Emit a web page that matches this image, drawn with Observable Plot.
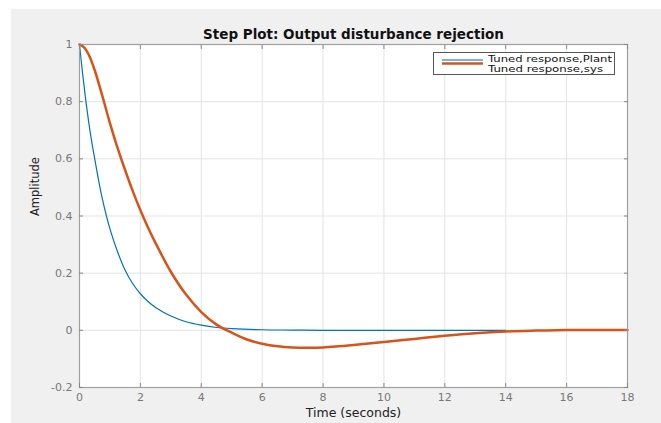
<!DOCTYPE html>
<html>
<head>
<meta charset="utf-8">
<script src="https://cdn.jsdelivr.net/npm/d3@7"></script>
<script src="https://cdn.jsdelivr.net/npm/@observablehq/plot@0.6"></script>
<style>
  html, body { margin: 0; padding: 0; background: #ffffff; }
  #wrap { position: absolute; left: 11px; top: 9px; width: 650px; height: 414px; background: #f0f0f0; overflow: hidden; }
  #legend { position: absolute; left: 422px; top: 43px; }
</style>
</head>
<body>
<div id="wrap"><div id="chart"></div><div id="legend"></div></div>
<script>
const title = "Step Plot: Output disturbance rejection";
const xLabel = "Time (seconds)";
const yLabel = "Amplitude";
const seriesNames = ["Tuned response,Plant", "Tuned response,sys"];
const seriesColors = ["#0072BD", "#D95319"];
const xTicks = [0, 2, 4, 6, 8, 10, 12, 14, 16, 18];
const yTicks = [-0.2, 0, 0.2, 0.4, 0.6, 0.8, 1];

const plantT = [0, 0.1, 0.2, 0.3, 0.4, 0.5, 0.6, 0.75, 1, 1.25, 1.5, 1.75, 2, 2.25, 2.5, 3, 3.5, 4, 4.5, 5, 6, 7, 8, 10, 12, 14];
const plantV = [1, 0.9, 0.81, 0.73, 0.66, 0.6, 0.54, 0.46, 0.355, 0.275, 0.21, 0.163, 0.128, 0.101, 0.08, 0.05, 0.03, 0.018, 0.01, 0.006, 0.002, 0.001, 0, 0, 0, 0];

const sysT = [0, 0.15, 0.3, 0.5, 0.75, 1, 1.25, 1.5, 1.75, 2, 2.25, 2.5, 3, 3.5, 4, 4.5, 5, 5.5, 6, 6.5, 7, 7.5, 8, 8.5, 9, 10, 11, 12, 13, 14, 15, 16, 17, 18];
const sysV = [1, 0.99, 0.965, 0.91, 0.82, 0.725, 0.638, 0.56, 0.487, 0.42, 0.36, 0.305, 0.205, 0.125, 0.064, 0.02, -0.008, -0.032, -0.047, -0.056, -0.06, -0.061, -0.06, -0.056, -0.051, -0.041, -0.03, -0.019, -0.01, -0.004, -0.001, 0.001, 0.001, 0.001];

const plant = plantT.map((t, i) => ({t, v: plantV[i]}));
const sys = sysT.map((t, i) => ({t, v: sysV[i]}));

const fmt = d => String(+d.toFixed(1));
const axisColor = "#a0a0a0";
const gridColor = "#e3e3e3";
const font = "DejaVu Sans";

const chart = Plot.plot({
  width: 650,
  height: 414,
  marginLeft: 68,
  marginRight: 34,
  marginTop: 35,
  marginBottom: 36,
  style: {background: "transparent", fontFamily: font, fontSize: "11px", color: "#777777"},
  x: {domain: [0, 18]},
  y: {domain: [-0.2, 1]},
  marks: [
    Plot.frame({fill: "white", stroke: null}),
    Plot.gridX(xTicks, {stroke: gridColor, strokeOpacity: 1}),
    Plot.gridY(yTicks, {stroke: gridColor, strokeOpacity: 1}),
    Plot.line(plant, {x: "t", y: "v", stroke: seriesColors[0], strokeWidth: 1.2, curve: "catmull-rom"}),
    Plot.line(sys, {x: "t", y: "v", stroke: seriesColors[1], strokeWidth: 2.5, curve: "catmull-rom"}),
    Plot.frame({stroke: axisColor, strokeWidth: 1.2}),
    Plot.axisX(xTicks, {anchor: "bottom", tickSize: 0, tickPadding: 6, tickFormat: fmt, label: null}),
    Plot.axisY(yTicks, {anchor: "left", tickSize: 0, tickPadding: 7, tickFormat: fmt, label: null}),
    Plot.axisX(xTicks, {anchor: "bottom", tickSize: -4, stroke: "#888", tickFormat: () => "", label: null}),
    Plot.axisX(xTicks, {anchor: "top", tickSize: -4, stroke: "#888", tickFormat: () => "", label: null}),
    Plot.axisY(yTicks, {anchor: "left", tickSize: -4, stroke: "#888", tickFormat: () => "", label: null}),
    Plot.axisY(yTicks, {anchor: "right", tickSize: -4, stroke: "#888", tickFormat: () => "", label: null}),
    Plot.text([title], {text: d => d, frameAnchor: "top", dy: -15, fontWeight: "bold", fontSize: 13.5, fill: "#111"}),
    Plot.text([xLabel], {text: d => d, frameAnchor: "bottom", dy: 29, fontSize: 12.5, fill: "#222"}),
    Plot.text([yLabel], {text: d => d, frameAnchor: "left", dx: -44, rotate: -90, fontSize: 11.5, fill: "#222"})
  ]
});
document.getElementById("chart").appendChild(chart);

// Legend (layout only)
const lg = d3.select("#legend").append("svg")
  .attr("width", 184).attr("height", 24)
  .style("font-family", font).style("font-size", "9px");
lg.append("rect").attr("x", 0.5).attr("y", 0.5).attr("width", 181).attr("height", 22)
  .attr("fill", "white").attr("stroke", "#555");
const rows = [
  {line: 8, text: 9.6, w: 1.5, len: 124},
  {line: 11.5, text: 20.2, w: 2.5, len: 115}
];
seriesNames.forEach((name, i) => {
  lg.append("line").attr("x1", 9).attr("x2", 50).attr("y1", rows[i].line).attr("y2", rows[i].line)
    .attr("stroke", seriesColors[i]).attr("stroke-width", rows[i].w).attr("opacity", i === 0 ? 0.7 : 1);
  lg.append("text").attr("x", 55).attr("y", rows[i].text).attr("fill", "#111")
    .attr("textLength", rows[i].len).attr("lengthAdjust", "spacingAndGlyphs").text(name);
});
</script>
</body>
</html>
